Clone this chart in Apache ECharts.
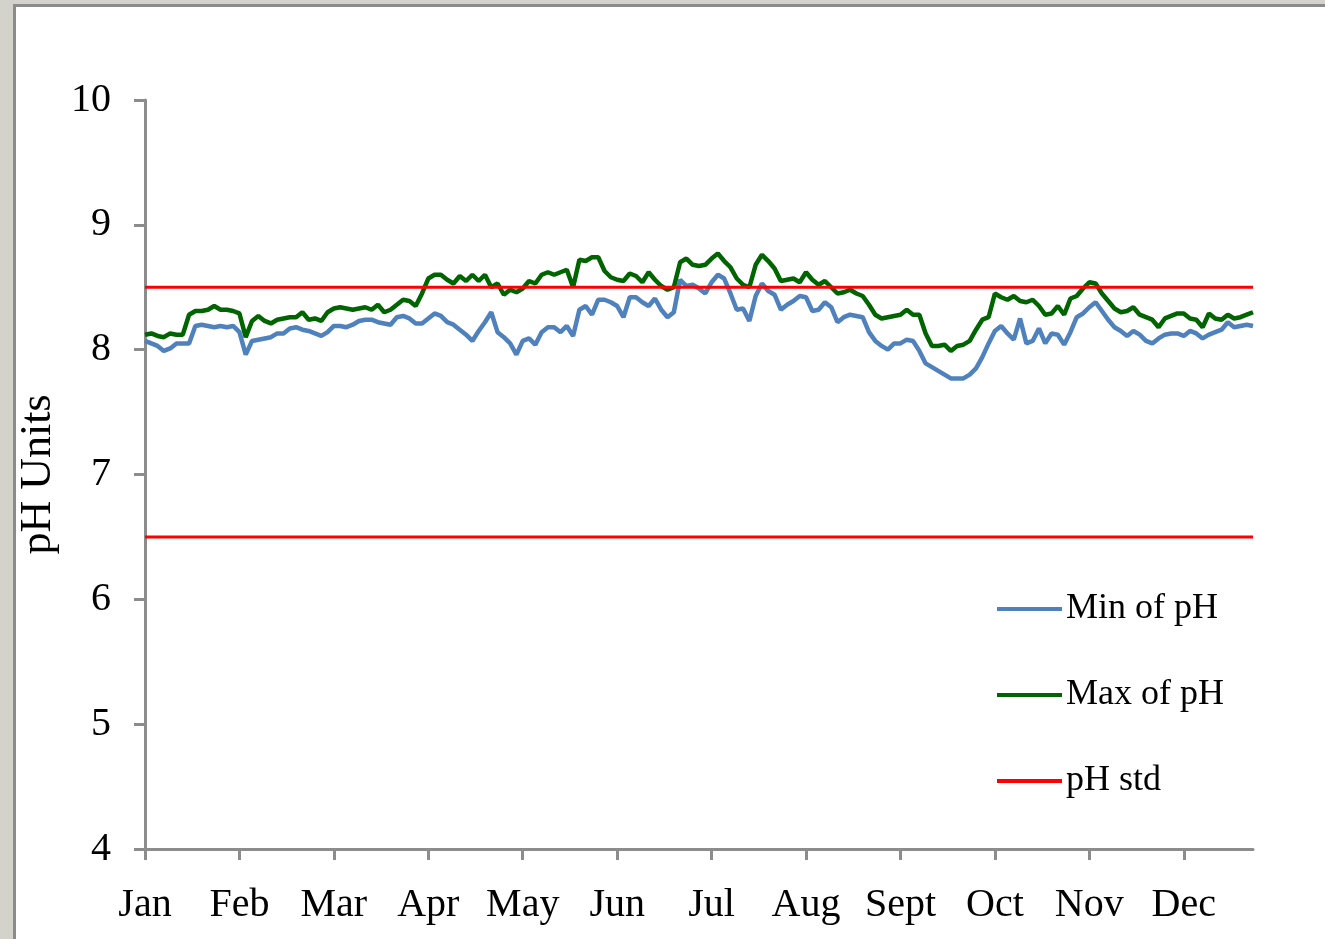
<!DOCTYPE html>
<html>
<head>
<meta charset="utf-8">
<script src="https://cdn.jsdelivr.net/npm/echarts@6/dist/echarts.min.js"></script>
<style>
  html, body { margin: 0; padding: 0; background: #ffffff; }
  #chart { width: 1325px; height: 939px; }
</style>
</head>
<body>
<div id="chart"></div>
<script>
// Day index (0 = 1 Jan), sampled every 2 days
const DAY_STEP = 2;
const monthLabels = ['Jan', 'Feb', 'Mar', 'Apr', 'May', 'Jun', 'Jul', 'Aug', 'Sept', 'Oct', 'Nov', 'Dec'];
const monthTickDays = [0, 30, 60, 90, 120, 150, 180, 210, 240, 270, 300, 330];
const lastDay = 352;
const yTicks = [4, 5, 6, 7, 8, 9, 10];

const minOfPH = [
  8.07, 8.05, 8.03, 7.99, 8.01, 8.05, 8.05, 8.05, 8.19, 8.20,
  8.19, 8.18, 8.19, 8.18, 8.19, 8.14, 7.96, 8.07, 8.08, 8.09,
  8.10, 8.13, 8.13, 8.17, 8.18, 8.16, 8.15, 8.13, 8.11, 8.14,
  8.19, 8.19, 8.18, 8.20, 8.23, 8.24, 8.24, 8.22, 8.21, 8.20,
  8.26, 8.27, 8.25, 8.21, 8.21, 8.25, 8.29, 8.27, 8.22, 8.20,
  8.16, 8.12, 8.07, 8.15, 8.22, 8.30, 8.14, 8.10, 8.05, 7.96,
  8.07, 8.09, 8.04, 8.14, 8.18, 8.18, 8.14, 8.19, 8.11, 8.32,
  8.35, 8.28, 8.40, 8.40, 8.38, 8.35, 8.26, 8.42, 8.42, 8.38,
  8.35, 8.41, 8.32, 8.26, 8.30, 8.56, 8.51, 8.52, 8.49, 8.45,
  8.54, 8.60, 8.57, 8.45, 8.32, 8.33, 8.23, 8.43, 8.53, 8.47,
  8.44, 8.32, 8.36, 8.39, 8.43, 8.42, 8.31, 8.32, 8.38, 8.34,
  8.22, 8.26, 8.28, 8.27, 8.26, 8.14, 8.07, 8.03, 8.00, 8.05,
  8.05, 8.08, 8.07, 7.99, 7.89, 7.86, 7.83, 7.80, 7.77, 7.77,
  7.77, 7.80, 7.85, 7.94, 8.05, 8.15, 8.19, 8.13, 8.08, 8.25,
  8.05, 8.07, 8.17, 8.05, 8.13, 8.12, 8.04, 8.14, 8.26, 8.29,
  8.34, 8.38, 8.31, 8.24, 8.18, 8.15, 8.11, 8.15, 8.12, 8.07,
  8.05, 8.09, 8.12, 8.13, 8.13, 8.11, 8.15, 8.13, 8.09, 8.12,
  8.14, 8.16, 8.22, 8.18, 8.19, 8.20, 8.19
];

const maxOfPH = [
  8.12, 8.13, 8.11, 8.10, 8.13, 8.12, 8.12, 8.28, 8.31, 8.31,
  8.32, 8.35, 8.32, 8.32, 8.31, 8.29, 8.10, 8.23, 8.27, 8.23,
  8.21, 8.24, 8.25, 8.26, 8.26, 8.30, 8.24, 8.25, 8.23, 8.30,
  8.33, 8.34, 8.33, 8.32, 8.33, 8.34, 8.32, 8.36, 8.30, 8.32,
  8.36, 8.40, 8.39, 8.35, 8.45, 8.57, 8.60, 8.60, 8.56, 8.53,
  8.59, 8.55, 8.60, 8.55, 8.60, 8.50, 8.53, 8.44, 8.48, 8.46,
  8.49, 8.55, 8.53, 8.60, 8.62, 8.60, 8.62, 8.64, 8.50, 8.72,
  8.71, 8.74, 8.74, 8.63, 8.58, 8.56, 8.55, 8.61, 8.59, 8.54,
  8.62, 8.56, 8.51, 8.48, 8.50, 8.70, 8.73, 8.68, 8.67, 8.68,
  8.73, 8.77, 8.71, 8.66, 8.57, 8.52, 8.50, 8.68, 8.76, 8.71,
  8.65, 8.55, 8.56, 8.57, 8.54, 8.62, 8.56, 8.52, 8.55, 8.50,
  8.45, 8.46, 8.48, 8.45, 8.43, 8.36, 8.28, 8.25, 8.26, 8.27,
  8.28, 8.32, 8.28, 8.28, 8.13, 8.03, 8.03, 8.04, 7.99, 8.03,
  8.04, 8.07, 8.16, 8.24, 8.26, 8.45, 8.42, 8.40, 8.43, 8.39,
  8.38, 8.40, 8.35, 8.28, 8.29, 8.35, 8.28, 8.41, 8.43, 8.49,
  8.54, 8.53, 8.45, 8.39, 8.33, 8.30, 8.31, 8.34, 8.28, 8.26,
  8.24, 8.18, 8.25, 8.27, 8.29, 8.29, 8.25, 8.24, 8.18, 8.29,
  8.25, 8.24, 8.28, 8.25, 8.26, 8.28, 8.30
];

const phStdLevels = [8.5, 6.5];

const FONT = "'Liberation Serif', 'Times New Roman', serif";

function toPairs(values) {
  return values.map((v, i) => [i * DAY_STEP, v]);
}

const chart = echarts.init(document.getElementById('chart'), null, { renderer: 'canvas' });

const stdSeries = phStdLevels.map(level => ({
  name: 'pH std',
  type: 'line',
  data: [[0, level], [lastDay, level]],
  showSymbol: false,
  symbol: 'none',
  lineStyle: { color: '#ff0000', width: 3 },
  itemStyle: { color: '#ff0000' },
  z: 4,
  silent: true
}));

chart.setOption({
  animation: false,
  backgroundColor: '#ffffff',
  graphic: [
    { type: 'rect', shape: { x: 0, y: 0, width: 1325, height: 4 }, style: { fill: '#d3d3cb' }, silent: true },
    { type: 'rect', shape: { x: 0, y: 0, width: 13, height: 939 }, style: { fill: '#d3d3cb' }, silent: true },
    { type: 'rect', shape: { x: 13, y: 4, width: 1312, height: 3 }, style: { fill: '#8c8c8c' }, silent: true },
    { type: 'rect', shape: { x: 13, y: 4, width: 3, height: 935 }, style: { fill: '#8c8c8c' }, silent: true }
  ],
  grid: { left: 145, right: 72, top: 100, bottom: 90, containLabel: false },
  legend: {
    orient: 'vertical',
    left: 997,
    top: 589,
    padding: 0,
    itemWidth: 65,
    itemHeight: 4,
    itemGap: 46,
    data: [
      { name: 'Min of pH', icon: 'rect' },
      { name: 'Max of pH', icon: 'rect' },
      { name: 'pH std', icon: 'rect', itemStyle: { color: '#ff0000' } }
    ],
    textStyle: { fontFamily: FONT, fontSize: 36, color: '#000000', lineHeight: 40, padding: [0, 0, 0, -1] },
    selectedMode: false
  },
  xAxis: {
    type: 'value',
    min: 0,
    max: lastDay,
    axisLine: { show: true, lineStyle: { color: '#8c8c8c', width: 3 } },
    axisTick: { show: true, inside: false, length: 11, lineStyle: { color: '#8c8c8c', width: 3 }, customValues: monthTickDays },
    axisLabel: {
      customValues: monthTickDays,
      formatter: v => monthLabels[monthTickDays.indexOf(v)] || '',
      fontFamily: FONT, fontSize: 40, color: '#000000', margin: 36
    },
    splitLine: { show: false }
  },
  yAxis: {
    type: 'value',
    min: yTicks[0],
    max: yTicks[yTicks.length - 1],
    interval: 1,
    name: 'pH Units',
    nameLocation: 'middle',
    nameGap: 78,
    nameRotate: 90,
    nameTextStyle: { fontFamily: FONT, fontSize: 44, color: '#000000' },
    axisLine: { show: true, lineStyle: { color: '#8c8c8c', width: 3 } },
    axisTick: { show: true, inside: false, length: 11, lineStyle: { color: '#8c8c8c', width: 3 } },
    axisLabel: { fontFamily: FONT, fontSize: 40, color: '#000000', margin: 34 },
    splitLine: { show: false }
  },
  series: [
    {
      name: 'Min of pH',
      type: 'line',
      data: toPairs(minOfPH),
      showSymbol: false,
      symbol: 'none',
      lineStyle: { color: '#4f81bd', width: 4.5 },
      itemStyle: { color: '#4f81bd' },
      z: 2
    },
    {
      name: 'Max of pH',
      type: 'line',
      data: toPairs(maxOfPH),
      showSymbol: false,
      symbol: 'none',
      lineStyle: { color: '#006400', width: 4.5 },
      itemStyle: { color: '#006400' },
      z: 3
    },
    ...stdSeries
  ]
});
</script>
</body>
</html>
